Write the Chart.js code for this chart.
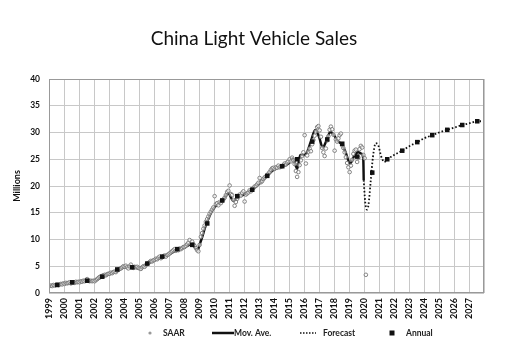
<!DOCTYPE html>
<html>
<head>
<meta charset="utf-8">
<script src="https://cdn.jsdelivr.net/npm/chart.js@4.4.1/dist/chart.umd.min.js"></script>
<style>
  body { margin: 0; background: #fff; }
  canvas { display: block; }
</style>
</head>
<body>
<canvas id="sales" width="508" height="363"></canvas>
<script>
// monthly SAAR, Jan 1999 .. Feb 2020 (millions)
const saarStart = 1999;
const saarValues = [
  1.3, 1.4, 1.3, 1.5, 1.4, 1.5, 1.6, 1.5, 1.6, 1.7, 1.6, 1.8,
  1.7, 1.9, 1.8, 1.9, 2.0, 1.8, 1.9, 2.0, 1.9, 2.1, 2.0, 2.1,
  2.0, 2.2, 2.1, 2.3, 2.2, 2.4, 2.6, 2.3, 2.2, 2.3, 2.2, 2.3,
  2.2, 2.4, 2.6, 2.8, 3.0, 3.1, 3.2, 3.3, 3.4, 3.3, 3.5, 3.6,
  3.6, 3.8, 3.7, 3.9, 4.0, 3.9, 4.2, 4.4, 4.5, 4.6, 4.8, 5.0,
  4.9, 5.1, 4.8, 4.6, 5.0, 5.3, 4.8, 4.7, 4.9, 4.8, 4.9, 4.7,
  4.6, 4.5, 4.8, 5.0, 4.9, 5.2, 5.5, 5.6, 5.8, 6.0, 5.9, 6.1,
  6.2, 6.4, 6.3, 6.6, 6.8, 6.5, 6.7, 6.9, 7.0, 6.8, 7.1, 7.2,
  7.4, 7.6, 7.8, 8.0, 8.2, 7.9, 8.1, 8.0, 8.3, 8.2, 8.4, 8.6,
  8.6, 8.8, 9.1, 9.4, 9.9, 9.2, 9.6, 9.1, 8.8, 8.4, 8.0, 7.8,
  9.0, 10.5, 11.2, 12.0, 12.6, 13.3, 13.8, 14.3, 14.8, 15.2, 15.6, 16.0,
  18.1, 16.6, 16.8, 16.4, 17.0, 16.8, 17.2, 17.5, 17.8, 18.3, 18.9, 19.1,
  20.1, 18.5, 18.3, 17.4, 16.3, 17.0, 17.6, 18.1, 18.4, 18.2, 18.7, 19.0,
  17.1, 18.4, 18.6, 18.8, 19.2, 19.0, 19.4, 19.6, 19.9, 20.0, 20.3, 20.6,
  21.5, 20.7, 20.9, 21.3, 21.6, 21.8, 22.0, 22.3, 22.6, 23.0, 23.3, 23.4,
  23.2, 23.5, 23.4, 23.8, 23.5, 23.6, 23.7, 23.9, 24.2, 24.0, 24.4, 24.6,
  25.0, 24.6, 25.3, 24.8, 24.1, 22.8, 21.7, 22.6, 23.9, 24.8, 25.6, 26.3,
  29.5, 24.2, 25.7, 26.4, 27.0, 26.5, 27.8, 28.6, 29.4, 30.2, 31.0, 31.2,
  30.4, 29.2, 27.1, 26.3, 25.6, 27.0, 28.5, 29.3, 30.5, 31.1, 30.6, 29.6,
  26.6, 28.7, 28.3, 28.9, 29.5, 29.8, 27.6, 27.1, 26.3, 25.4, 24.3, 23.5,
  22.6, 23.8, 24.9, 26.0, 26.6, 26.8, 24.5, 25.3, 26.9, 27.5, 27.2, 25.8,
  25.2, 3.4
];

// moving average, read at irregular dates
const movAveX = [1999.0, 1999.5, 2000.0, 2000.5, 2001.0, 2001.5, 2002.0, 2002.5, 2003.0, 2003.5,
  2004.0, 2004.5, 2005.0, 2005.5, 2006.0, 2006.5, 2007.0, 2007.5, 2008.0, 2008.5, 2008.9,
  2009.1, 2009.5, 2009.9, 2010.25, 2010.6, 2010.95, 2011.3, 2011.6, 2012.0, 2012.5, 2013.0,
  2013.5, 2014.0, 2014.5, 2015.0, 2015.25, 2015.55, 2015.75, 2016.0, 2016.2, 2016.45, 2016.75,
  2017.0, 2017.25, 2017.5, 2017.75, 2018.0, 2018.25, 2018.5, 2018.75, 2019.07, 2019.35, 2019.6,
  2019.85, 2019.95, 2019.98];
const movAveY = [1.4, 1.5, 1.8, 1.9, 2.1, 2.3, 2.3, 2.9, 3.5, 4.0,
  4.8, 4.9, 4.6, 5.3, 6.1, 6.6, 7.2, 8.0, 8.5, 9.1, 8.1,
  9.5, 13.0, 15.5, 16.6, 17.4, 18.6, 17.2, 18.0, 18.4, 19.3, 20.4,
  21.8, 23.1, 23.6, 24.3, 25.2, 23.2, 25.8, 25.8, 26.3, 28.3, 30.5,
  29.2, 27.2, 28.5, 30.1, 29.5, 28.4, 27.8, 26.5, 24.2, 25.6, 26.3,
  26.0, 25.0, 21.1];

const forecastX = [2019.98, 2020.08, 2020.2, 2020.3, 2020.45, 2020.6, 2020.78, 2020.95, 2021.15,
  2021.35, 2021.55, 2022.0, 2022.55, 2023.0, 2023.55, 2024.0, 2024.55, 2025.0, 2025.55,
  2026.0, 2026.55, 2027.0, 2027.55, 2027.8];
const forecastY = [21.1, 17.0, 15.6, 16.5, 21.0, 25.5, 28.0, 27.6, 25.5,
  24.5, 25.0, 25.8, 26.6, 27.4, 28.2, 28.9, 29.5, 30.0, 30.5,
  30.9, 31.4, 31.7, 32.1, 32.1];

const annualYears = [1999, 2000, 2001, 2002, 2003, 2004, 2005, 2006, 2007, 2008, 2009, 2010,
  2011, 2012, 2013, 2014, 2015, 2016, 2017, 2018, 2019, 2020, 2021, 2022, 2023, 2024, 2025, 2026, 2027];
const annualValues = [1.5, 2.0, 2.3, 3.05, 4.4, 4.8, 5.5, 6.8, 8.2, 9.0, 13.0, 17.3,
  18.1, 19.3, 21.9, 23.7, 25.0, 28.3, 28.7, 27.9, 25.5, 22.5, 25.0, 26.6, 28.2, 29.5, 30.5, 31.4, 32.1];

const legendItems = ['SAAR', 'Mov. Ave.', 'Forecast', 'Annual'];

const saarPts = saarValues.map((v, i) => ({x: saarStart + (i + 0.5) / 12, y: v}));
const movPts = movAveX.map((x, i) => ({x: x, y: movAveY[i]}));
const fcPts = forecastX.map((x, i) => ({x: x, y: forecastY[i]}));
const annPts = annualYears.map((yr, i) => ({x: yr + 0.55, y: annualValues[i]}));

// title, plot frame and bottom legend
const decor = {
  id: 'decor',
  afterDraw(chart) {
    const ctx = chart.ctx;
    const a = chart.chartArea;
    ctx.save();
    ctx.strokeStyle = '#999';
    ctx.lineWidth = 1;
    ctx.strokeRect(a.left + 0.5, a.top + 0.5, a.right - a.left - 1, a.bottom - a.top - 1);

    ctx.fillStyle = '#111';
    ctx.font = '19px Lato';
    ctx.textAlign = 'center';
    ctx.textBaseline = 'middle';
    ctx.fillText('China Light Vehicle Sales', 254, 39);

    const ly = 333;
    ctx.font = 'bold 8.5px Lato';
    ctx.textAlign = 'left';
    ctx.fillStyle = '#222';
    // SAAR
    ctx.beginPath();
    ctx.arc(150, ly, 1.6, 0, Math.PI * 2);
    ctx.fillStyle = '#999';
    ctx.fill();
    ctx.fillStyle = '#222';
    ctx.fillText(legendItems[0], 163, ly);
    // Mov. Ave.
    ctx.strokeStyle = '#111';
    ctx.lineWidth = 2.5;
    ctx.beginPath();
    ctx.moveTo(212, ly); ctx.lineTo(234, ly);
    ctx.stroke();
    ctx.fillText(legendItems[1], 234, ly);
    // Forecast
    ctx.lineWidth = 1.5;
    ctx.setLineDash([1.5, 1.5]);
    ctx.beginPath();
    ctx.moveTo(300, ly); ctx.lineTo(316, ly);
    ctx.stroke();
    ctx.setLineDash([]);
    ctx.fillText(legendItems[2], 323, ly);
    // Annual
    ctx.fillStyle = '#111';
    ctx.fillRect(389.5, ly - 2.5, 5, 5);
    ctx.fillStyle = '#222';
    ctx.fillText(legendItems[3], 406, ly);
    ctx.restore();
  }
};

new Chart(document.getElementById('sales'), {
  type: 'scatter',
  data: {
    datasets: [
      {
        label: 'Annual', data: annPts, order: 0,
        pointStyle: 'rect', pointRadius: 3.2, backgroundColor: '#111', borderColor: '#111', borderWidth: 0
      },
      {
        label: 'SAAR', data: saarPts, order: 1,
        pointStyle: 'circle', pointRadius: 1.8, backgroundColor: 'rgba(255,255,255,0.6)',
        borderColor: '#777', borderWidth: 0.9
      },
      {
        label: 'Mov. Ave.', data: movPts, order: 2, showLine: true,
        borderColor: '#111', borderWidth: 2.4, pointRadius: 0, cubicInterpolationMode: 'monotone'
      },
      {
        label: 'Forecast', data: fcPts, order: 3, showLine: true,
        borderColor: '#111', borderWidth: 1.8, borderDash: [1.6, 2], pointRadius: 0,
        cubicInterpolationMode: 'monotone'
      }
    ]
  },
  options: {
    responsive: false,
    animation: false,
    layout: { padding: { top: 79, right: 24, left: 0, bottom: 0 } },
    plugins: {
      legend: { display: false },
      title: { display: false },
      tooltip: { enabled: false }
    },
    scales: {
      x: {
        type: 'linear', min: 1999, max: 2028,
        afterFit: s => { s.height = 70; },
        grid: { color: '#c8c8c8', drawTicks: false },
        border: { display: false },
        ticks: {
          stepSize: 1, minRotation: 90, maxRotation: 90, padding: 5, color: '#111',
          font: { family: 'Lato', size: 9, weight: 'bold' },
          autoSkip: false,
          callback: v => (v < 2028 ? String(v) : '')
        }
      },
      y: {
        min: 0, max: 40,
        afterFit: s => { s.width = 49; },
        grid: { color: '#c8c8c8', drawTicks: false },
        border: { display: false },
        ticks: {
          stepSize: 5, padding: 9, color: '#111',
          font: { family: 'Lato', size: 8.5, weight: 'bold' }
        },
        title: {
          display: true, text: 'Millions', color: '#111',
          font: { family: 'Lato', size: 9, weight: 'bold' },
          padding: { top: 12, bottom: 0 }
        }
      }
    }
  },
  plugins: [decor]
});
</script>
</body>
</html>
